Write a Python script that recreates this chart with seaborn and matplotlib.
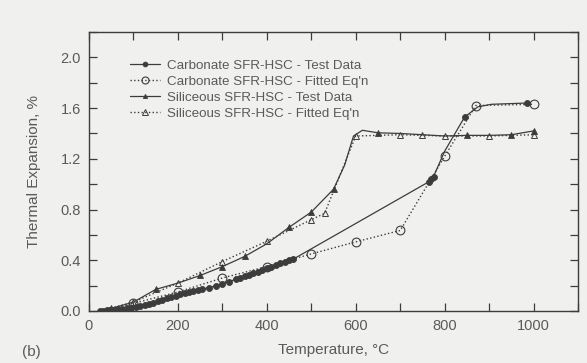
import matplotlib
matplotlib.use("Agg")
import matplotlib.pyplot as plt
from matplotlib.lines import Line2D
from matplotlib.ticker import MultipleLocator
import pandas as pd
import seaborn as sns

# Carbonate SFR-HSC, measured curve (dense readings up to ~460 °C, then sparse)
carb_test_T = [25, 32, 40, 48, 56, 65, 75, 85, 95, 105, 115, 125, 135, 145, 155, 165,
               175, 185, 195, 205, 215, 225, 235, 245, 255, 270, 285, 300, 315, 330,
               340, 350, 360, 370, 380, 390, 400, 410, 420, 430, 440, 450, 460,
               765, 770, 775, 800, 845, 875, 905, 985]
carb_test_val = [0.0, 0.003, 0.006, 0.008, 0.01, 0.013, 0.016, 0.02, 0.026, 0.033,
                 0.04, 0.047, 0.055, 0.065, 0.075, 0.087, 0.10, 0.11, 0.12, 0.13, 0.14,
                 0.15, 0.16, 0.165, 0.172, 0.185, 0.198, 0.215, 0.232, 0.25, 0.26,
                 0.272, 0.285, 0.298, 0.31, 0.323, 0.337, 0.35, 0.363, 0.376, 0.389,
                 0.40, 0.41, 1.02, 1.04, 1.06, 1.26, 1.53, 1.61, 1.63, 1.64]
carb_test_marked = [True] * 43 + [True, True, True, False, True, False, False, True]

# Carbonate SFR-HSC, fitted equation
carb_fit_T = [25, 100, 200, 300, 400, 500, 600, 700, 800, 870, 1000]
carb_fit_val = [0.0, 0.06, 0.15, 0.26, 0.35, 0.45, 0.545, 0.635, 1.22, 1.62, 1.63]
carb_fit_marked = [False] + [True] * 10

# Siliceous SFR-HSC, measured curve
sil_test_T = [25, 50, 100, 150, 200, 250, 300, 350, 400, 450, 500, 550, 575, 595,
              615, 650, 700, 750, 800, 850, 900, 950, 1000]
sil_test_val = [0.0, 0.02, 0.07, 0.17, 0.22, 0.28, 0.35, 0.43, 0.53, 0.66, 0.78, 0.96,
                1.15, 1.38, 1.425, 1.405, 1.40, 1.39, 1.38, 1.385, 1.385, 1.39, 1.42]
sil_test_marked = [False, True, False, True, False, True, True, True, False, True, True,
                   True, False, False, False, True, False, False, False, True, False,
                   True, True]

# Siliceous SFR-HSC, fitted equation
sil_fit_T = [25, 100, 200, 300, 400, 500, 530, 600, 700, 750, 800, 900, 1000]
sil_fit_val = [0.0, 0.07, 0.22, 0.39, 0.55, 0.72, 0.77, 1.38, 1.39, 1.385, 1.38, 1.38, 1.39]
sil_fit_marked = [False] + [True] * 12

series_labels = ["Carbonate SFR-HSC - Test Data",
                 "Carbonate SFR-HSC - Fitted Eq'n",
                 "Siliceous SFR-HSC - Test Data",
                 "Siliceous SFR-HSC - Fitted Eq'n"]

x_ticks = [0, 200, 400, 600, 800, 1000]
y_ticks = [0.0, 0.4, 0.8, 1.2, 1.6, 2.0]

sns.set_theme(style="ticks")
plt.rcParams["font.family"] = ["Liberation Sans", "DejaVu Sans"]

ink = "#3c3c3c"
txt = "#5a5a5a"
bg = "#f0f0ee"

fig = plt.figure(figsize=(5.87, 3.63), dpi=100, facecolor=bg)
ax = fig.add_axes([0.1516, 0.1433, 0.8331, 0.7685])
ax.set_facecolor(bg)

styles = [
    dict(ls="-", lw=0.9, marker="o", ms=4.3, mfc=ink, mec=ink, mew=0.6),
    dict(ls=":", lw=1.0, marker="o", ms=6.3, mfc="none", mec=ink, mew=0.8),
    dict(ls="-", lw=0.9, marker="^", ms=3.8, mfc=ink, mec=ink, mew=0.6),
    dict(ls=":", lw=1.0, marker="^", ms=4.8, mfc="none", mec=ink, mew=0.7),
]
data = [
    (carb_test_T, carb_test_val, carb_test_marked),
    (carb_fit_T, carb_fit_val, carb_fit_marked),
    (sil_test_T, sil_test_val, sil_test_marked),
    (sil_fit_T, sil_fit_val, sil_fit_marked),
]

handles = []
for (T, v, m), st, lab in zip(data, styles, series_labels):
    df = pd.DataFrame({"T": T, "v": v, "m": m})
    sns.lineplot(data=df, x="T", y="v", ax=ax, color=ink, linestyle=st["ls"],
                 linewidth=st["lw"], estimator=None, sort=False, legend=False)
    pts = df[df["m"]]
    ax.plot(pts["T"], pts["v"], linestyle="none", marker=st["marker"],
            markersize=st["ms"], markerfacecolor=st["mfc"],
            markeredgecolor=st["mec"], markeredgewidth=st["mew"], zorder=3)
    handles.append(Line2D([], [], color=ink, linestyle=st["ls"], linewidth=st["lw"],
                          marker=st["marker"], markersize=st["ms"] * 0.8,
                          markerfacecolor=st["mfc"], markeredgecolor=st["mec"],
                          markeredgewidth=st["mew"], label=lab))

ax.set_xlim(0, 1100)
ax.set_ylim(0, 2.2)
ax.xaxis.set_minor_locator(MultipleLocator(100))
ax.yaxis.set_minor_locator(MultipleLocator(0.2))
ax.set_xticks(x_ticks)
ax.set_yticks(y_ticks)
ax.set_xticklabels([str(t) for t in x_ticks])
ax.set_yticklabels([f"{t:.1f}" for t in y_ticks])

ax.tick_params(which="both", direction="in", top=True, right=True, length=6,
               width=0.9, color=ink, labelcolor=txt, labelsize=10.5, pad=6)
for s in ax.spines.values():
    s.set_color(ink)
    s.set_linewidth(1.0)
    s.set_visible(True)

ax.set_xlabel("Temperature, °C", color=txt, fontsize=11, labelpad=7)
ax.set_ylabel("Thermal Expansion, %", color=txt, fontsize=11, labelpad=14)
fig.text(0.037, 0.018, "(b)", color=txt, fontsize=11)

leg = ax.legend(handles=handles, loc="upper left", bbox_to_anchor=(0.072, 0.92),
                frameon=False, fontsize=9.6, handlelength=2.3, labelspacing=0.27,
                handletextpad=0.5, borderaxespad=0)
for t in leg.get_texts():
    t.set_color(txt)

fig.savefig("out.png", dpi=100, facecolor=bg)
